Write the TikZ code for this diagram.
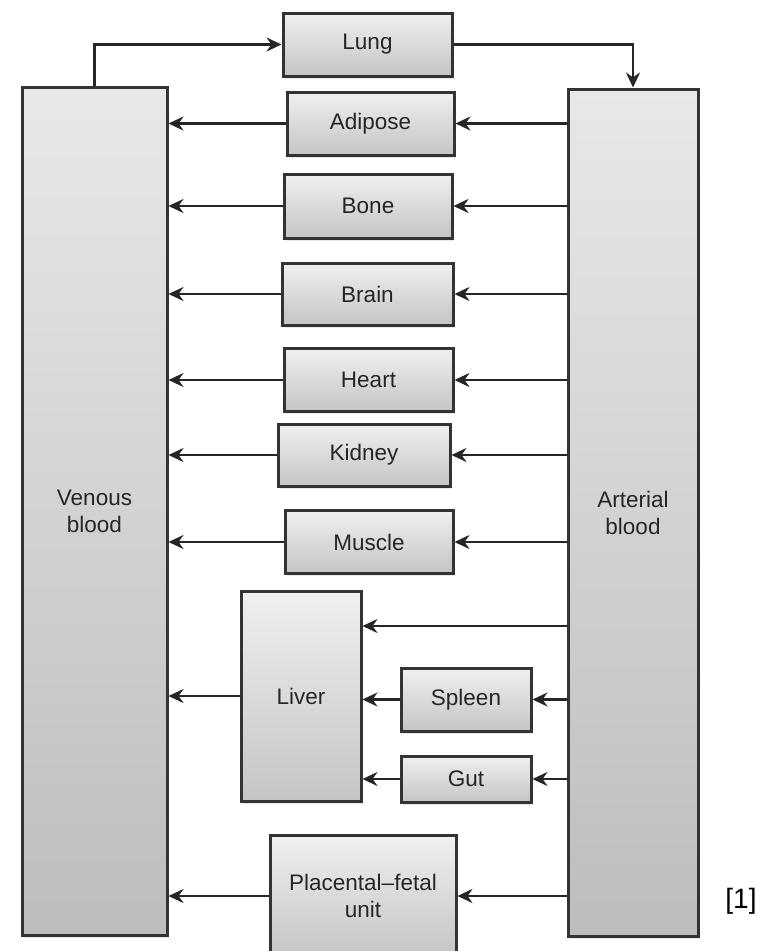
\documentclass[tikz,border=0pt]{standalone}
\usepackage{fontspec}
\setmainfont{Liberation Sans}
\usetikzlibrary{arrows.meta,shadows}

\begin{document}
\begin{tikzpicture}[x=1pt,y=-1pt,
  organ/.style={draw=black!80, line width=3pt, top color=gray!12, bottom color=gray!46,
    text=black!85, font=\fontsize{22.5}{27}\selectfont, align=center, inner sep=0pt,
    drop shadow={shadow xshift=1.5pt,shadow yshift=-2.5pt,opacity=0.18}},
  pool/.style={organ, top color=gray!18, bottom color=gray!52},
  flow/.style={line width=2.8pt, draw=black!85, -{Stealth[length=15pt,width=14pt,inset=5pt]}}]
\useasboundingbox (0,0) rectangle (758,951);

\node[pool, minimum width=145pt, minimum height=848pt] (venous) at (94.5,511) {Venous\\blood};
\node[pool, minimum width=130pt, minimum height=847pt] (arterial) at (633,512.5) {Arterial\\blood};

\node[organ, minimum width=169pt, minimum height=63pt] (lung) at (367.5,44.5) {Lung};
\node[organ, minimum width=167pt, minimum height=63pt] (adipose) at (370.5,123.5) {Adipose};
\node[organ, minimum width=168pt, minimum height=64pt] (bone) at (368,206) {Bone};
\node[organ, minimum width=171pt, minimum height=62pt] (brain) at (367.5,294) {Brain};
\node[organ, minimum width=169pt, minimum height=63pt] (heart) at (368.5,380) {Heart};
\node[organ, minimum width=172pt, minimum height=62pt] (kidney) at (364,455) {Kidney};
\node[organ, minimum width=168pt, minimum height=63pt] (muscle) at (369,542) {Muscle};
\node[organ, minimum width=120pt, minimum height=210pt] (liver) at (301,696) {Liver};
\node[organ, minimum width=130pt, minimum height=63pt] (spleen) at (466,699.5) {Spleen};
\node[organ, minimum width=130pt, minimum height=46pt] (gut) at (466,779) {Gut};
\node[organ, minimum width=186pt, minimum height=122pt] (placenta) at (363,896) {Placental–fetal\\unit};

\node[font=\fontsize{28}{32}\selectfont] (ref) at (741,901) {[1]};

\coordinate (hepatic) at (liver.east |- 0,626);

\draw[flow] (venous.north) |- (lung.west);
\draw[flow] (lung.east) -| (arterial.north);

\foreach \o in {adipose,bone,brain,heart,kidney,muscle,placenta} {
  \draw[flow] (\o.east -| arterial.west) -- (\o.east);
  \draw[flow] (\o.west) -- (\o.west -| venous.east);
}
\draw[flow] (hepatic -| arterial.west) -- (hepatic);
\draw[flow] (spleen.east -| arterial.west) -- (spleen.east);
\draw[flow] (gut.east -| arterial.west) -- (gut.east);
\draw[flow] (spleen.west) -- (spleen.west -| liver.east);
\draw[flow] (gut.west) -- (gut.west -| liver.east);
\draw[flow] (liver.west) -- (liver.west -| venous.east);
\end{tikzpicture}
\end{document}
